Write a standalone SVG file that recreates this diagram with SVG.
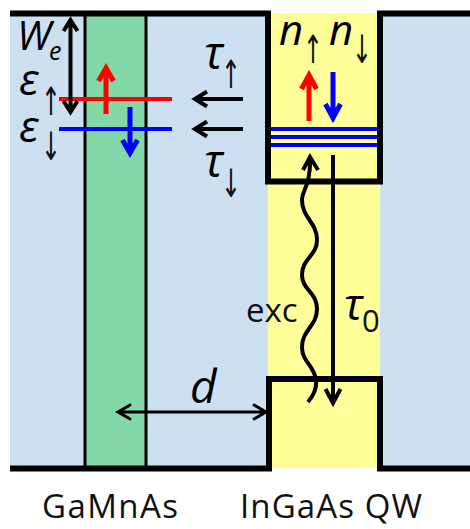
<svg xmlns="http://www.w3.org/2000/svg" width="470" height="529" viewBox="0 0 470 529">
<defs>
<style>
.wall{fill:none;stroke:#000;stroke-width:6;stroke-linejoin:miter}
.arrow{fill:none;stroke:#000;stroke-width:4;stroke-linejoin:miter}
.thin{fill:none;stroke:#000;stroke-width:3}
.red{fill:none;stroke:#f00;stroke-width:5}
.blue{fill:none;stroke:#00f;stroke-width:5}
.it{font-family:"Open Sans","Noto Sans",sans-serif;font-style:italic;fill:#000}
.up{font-family:"DejaVu Sans",sans-serif;fill:#111;text-anchor:middle;font-size:34px}
.lab{font-family:"Open Sans","Noto Sans",sans-serif;fill:#111}
</style>
</defs>
<g id="background">
<rect x="10" y="13" width="460" height="455" fill="#cce0f1"/>
</g>
<g id="gamnas-layer">
<rect x="85" y="13" width="61" height="455" fill="#82d8a6"/>
<path d="M85 13V468M146 13V468" class="thin" stroke="#0c2a20"/>
</g>
<g id="quantum-well">
<rect x="271" y="13" width="106" height="168" fill="#ffff99"/>
<rect x="268" y="181" width="112" height="197" fill="#ffff99"/>
<rect x="271" y="378" width="106" height="90" fill="#ffff99"/>
</g>
<g id="band-edges">
<path class="wall" d="M10 13.500H268V181.500H380V13.500H470"/>
<path class="wall" d="M10 468.500H269V379H380V468.500H470"/>
</g>
<g id="levels">
<path d="M59 99H172" stroke="#f00" stroke-width="4" fill="none"/>
<path d="M59 129H172" stroke="#00f" stroke-width="4" fill="none"/>
<path d="M271 129H377M271 137H377M271 145H377" stroke="#00f" stroke-width="4" fill="none"/>
</g>
<g id="connectors">
<path class="arrow" d="M70.500 20V112M63.500 31L70.500 20L77.500 31M63.500 101L70.500 112L77.500 101"/>
<path class="red" d="M106 114V68M98.500 81L106 68L113.500 81"/>
<path class="blue" d="M130 107V153M122.500 140L130 153L137.500 140"/>
<path class="arrow" d="M243 99H195M207 91.500L195 99L207 106.500"/>
<path class="arrow" d="M243 129H195M207 121.500L195 129L207 136.500"/>
<path class="red" d="M309 121V75M301.500 89L309 75L316.500 89"/>
<path class="blue" d="M333 72V118M325.500 104L333 118L340.500 104"/>
<path class="arrow" d="M308 402C314 395 317 388 316 380C314 365 302 362 302 347C302 330 317 326 317 309C317 292 302 290 302 275C302 258 317 256 317 240C317 222 302 218 302 200C302 190 311 186 310 157M303 170L310 157L318 170"/>
<path class="arrow" d="M333 155V403M325.500 389L333 403L340.500 389"/>
<path class="thin" d="M118 412H266M131 404.500L118 412L131 419.500M253 404.500L266 412L253 419.500"/>
</g>
<g id="labels">
<text class="it" x="17" y="50" font-size="40">W</text>
<text class="it" x="49" y="60" font-size="25">e</text>
<text class="it" x="19" y="95" font-size="44">ε</text>
<text class="up" transform="translate(51 115) scale(.7 1.15)">↑</text>
<text class="it" x="19" y="142" font-size="44">ε</text>
<text class="up" transform="translate(51 160) scale(.7 1.15)">↓</text>
<text class="it" x="204" y="69" font-size="45">τ</text>
<text class="up" transform="translate(231 88) scale(.7 1.15)">↑</text>
<text class="it" x="204" y="177" font-size="45">τ</text>
<text class="up" transform="translate(231 197) scale(.7 1.15)">↓</text>
<text class="it" x="279" y="45" font-size="42">n</text>
<text class="up" transform="translate(313 63) scale(.7 1.15)">↑</text>
<text class="it" x="329" y="45" font-size="42">n</text>
<text class="up" transform="translate(362 63) scale(.7 1.15)">↓</text>
<text class="lab" x="246" y="322" font-size="33">exc</text>
<text class="it" x="344" y="320" font-size="44">τ</text>
<text class="lab" x="362" y="332" font-size="31">0</text>
<text class="it" x="190" y="403" font-size="46">d</text>
<text class="lab" x="42" y="518" font-size="33" textLength="136">GaMnAs</text>
<text class="lab" x="240" y="518" font-size="33" textLength="182">InGaAs QW</text>
</g>
</svg>
